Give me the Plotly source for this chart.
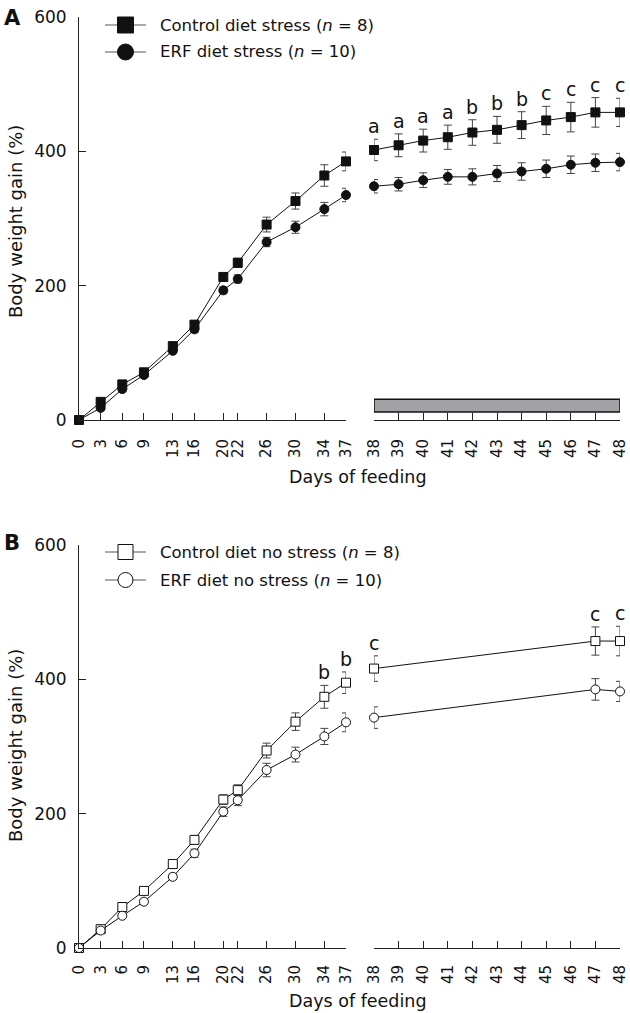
import plotly.graph_objects as go

W, H = 630, 1013

# ---------------- data ----------------
days_left = [0, 3, 6, 9, 13, 16, 20, 22, 26, 30, 34, 37]
days_right_A = [38, 39, 40, 41, 42, 43, 44, 45, 46, 47, 48]
days_right_B = [38, 47, 48]

# Panel A (stress)
ctrl_stress_left = [0, 27, 53, 71, 110, 142, 213, 234, 291, 326, 364, 385]
ctrl_stress_left_err = [2, 4, 4, 5, 5, 6, 6, 7, 11, 12, 16, 14]
erf_stress_left = [0, 18, 46, 67, 103, 135, 193, 210, 265, 287, 314, 335]
erf_stress_left_err = [2, 3, 3, 4, 4, 5, 5, 6, 7, 9, 10, 10]

ctrl_stress_right = [402, 409, 416, 421, 428, 432, 439, 446, 451, 458, 458]
ctrl_stress_right_err = [16, 17, 17, 18, 19, 20, 20, 21, 22, 22, 21]
erf_stress_right = [348, 351, 357, 362, 362, 367, 370, 374, 380, 383, 384]
erf_stress_right_err = [10, 10, 11, 11, 12, 12, 13, 13, 13, 13, 13]
letters_A = ["a", "a", "a", "a", "b", "b", "b", "c", "c", "c", "c"]

# Panel B (no stress)
ctrl_nostress_left = [0, 28, 61, 85, 125, 161, 221, 235, 294, 337, 374, 395]
ctrl_nostress_left_err = [2, 4, 4, 5, 5, 6, 7, 8, 11, 13, 17, 16]
erf_nostress_left = [0, 26, 48, 69, 106, 141, 203, 220, 265, 288, 315, 336]
erf_nostress_left_err = [2, 3, 3, 4, 4, 6, 7, 8, 10, 11, 12, 14]
letters_B_left = {34: "b", 37: "b"}

ctrl_nostress_right = [416, 457, 457]
ctrl_nostress_right_err = [19, 21, 22]
erf_nostress_right = [343, 385, 382]
erf_nostress_right_err = [16, 16, 15]
letters_B_right = ["c", "c", "c"]

stress_period = [38, 48]
stress_bar_y = [12, 31]

y_ticks = [0, 200, 400, 600]
x_title = "Days of feeding"
y_title = "Body weight gain (%)"

# ---------------- layout helpers ----------------
FONT = "DejaVu Sans"
def px_x(p):
    return p / W
def px_y(p):
    return 1 - p / H

XL = [px_x(79), px_x(346)]
XR = [px_x(374), px_x(620)]
YA = [px_y(420), px_y(17)]
YB = [px_y(948), px_y(545)]

fig = go.Figure()

def add_series(x, y, err, xa, ya, symbol, fill):
    fig.add_trace(go.Scatter(
        x=x, y=y, xaxis=xa, yaxis=ya, mode="lines+markers",
        line=dict(color="#111", width=1),
        marker=dict(symbol=symbol, size=9, color=fill,
                    line=dict(color="#111", width=1)),
        error_y=dict(type="data", array=err, color="#444", thickness=1, width=4),
        cliponaxis=False, showlegend=False, hoverinfo="skip"))

# Panel A
add_series(days_left, ctrl_stress_left, ctrl_stress_left_err, "x", "y", "square", "#111")
add_series(days_left, erf_stress_left, erf_stress_left_err, "x", "y", "circle", "#111")
add_series(days_right_A, ctrl_stress_right, ctrl_stress_right_err, "x2", "y", "square", "#111")
add_series(days_right_A, erf_stress_right, erf_stress_right_err, "x2", "y", "circle", "#111")
# Panel B
add_series(days_left, ctrl_nostress_left, ctrl_nostress_left_err, "x3", "y2", "square", "white")
add_series(days_left, erf_nostress_left, erf_nostress_left_err, "x3", "y2", "circle", "white")
add_series(days_right_B, ctrl_nostress_right, ctrl_nostress_right_err, "x4", "y2", "square", "white")
add_series(days_right_B, erf_nostress_right, erf_nostress_right_err, "x4", "y2", "circle", "white")

tick_font = dict(family=FONT, size=17, color="#111")
xtick_font = dict(family=FONT, size=15, color="#111")

def xaxis(domain, rng, vals, anchor, standoff, pad=False):
    text = [str(d).rjust(2, "\u2007") if pad else str(d) for d in vals]
    return dict(domain=domain, anchor=anchor, range=rng, tickmode="array",
                tickvals=vals, ticktext=text,
                tickangle=-90, ticks="inside", ticklen=7, tickcolor="#222",
                showline=True, linecolor="#222", linewidth=1,
                showgrid=False, zeroline=False, tickfont=xtick_font,
                ticklabelstandoff=standoff, automargin=False, fixedrange=True)

def yaxis(domain, anchor):
    return dict(domain=domain, anchor=anchor, range=[0, 600], tickmode="array",
                tickvals=y_ticks, ticks="inside", ticklen=7, tickcolor="#222",
                showline=True, linecolor="#222", linewidth=1,
                showgrid=False, zeroline=False, tickfont=tick_font,
                ticklabelstandoff=8, automargin=False, fixedrange=True)

fig.update_layout(
    width=W, height=H, margin=dict(l=0, r=0, t=0, b=0, pad=0, autoexpand=False),
    paper_bgcolor="white", plot_bgcolor="white",
    font=dict(family=FONT, color="#111"),
    xaxis=xaxis(XL, [0, 37], days_left, "y", 12, pad=True),
    xaxis2=xaxis(XR, [38, 48], days_right_A, "y", 12),
    xaxis3=xaxis(XL, [0, 37], days_left, "y2", 10, pad=True),
    xaxis4=xaxis(XR, [38, 48], days_right_A, "y2", 10),
    yaxis=yaxis(YA, "x"), yaxis2=yaxis(YB, "x3"),
    showlegend=False,
)

shapes = []
annotations = []

# stress period bar (panel A)
shapes.append(dict(type="rect", xref="x2", yref="y",
                   x0=stress_period[0], x1=stress_period[1],
                   y0=stress_bar_y[0], y1=stress_bar_y[1],
                   fillcolor="#a2a2a6", line=dict(color="#111", width=1.5)))

# significance letters
def letter(x, y, t, xref, yref):
    annotations.append(dict(x=x, y=y, xref=xref, yref=yref, text=t,
                            showarrow=False, xanchor="center", yanchor="bottom", yshift=0,
                            font=dict(family=FONT, size=19, color="#111")))

for d, m, e, t in zip(days_right_A, ctrl_stress_right, ctrl_stress_right_err, letters_A):
    letter(d, m + e, t, "x2", "y")
for d, m, e in zip(days_left, ctrl_nostress_left, ctrl_nostress_left_err):
    if d in letters_B_left:
        letter(d, m + e, letters_B_left[d], "x3", "y2")
for d, m, e, t in zip(days_right_B, ctrl_nostress_right, ctrl_nostress_right_err, letters_B_right):
    letter(d, m + e, t, "x4", "y2")

def paper_text(xp, yp, text, size, angle=0, xanchor="center"):
    annotations.append(dict(x=px_x(xp), y=px_y(yp), xref="paper", yref="paper",
                            text=text, textangle=angle, showarrow=False,
                            xanchor=xanchor, yanchor="middle",
                            font=dict(family=FONT, size=size, color="#111")))

# axis titles and panel labels
for ymid, ytitle in [(222, 477), (746, 1001)]:
    paper_text(358, ytitle, x_title, 17.5)
    paper_text(15, ymid, y_title, 18, angle=-90)
paper_text(12, 18, "<b>A</b>", 21)
paper_text(12, 543, "<b>B</b>", 21)

# manual legends
legend_items = [
    (25, "square", "#111", "Control diet stress (<i>n</i> = 8)"),
    (52, "circle", "#111", "ERF diet stress (<i>n</i> = 10)"),
    (552, "square", "white", "Control diet no stress (<i>n</i> = 8)"),
    (580, "circle", "white", "ERF diet no stress (<i>n</i> = 10)"),
]
for yc, sym, fill, txt in legend_items:
    shapes.append(dict(type="line", xref="paper", yref="paper",
                       x0=px_x(105), x1=px_x(146), y0=px_y(yc), y1=px_y(yc),
                       line=dict(color="#555", width=1)))
    half = 8 if fill == "#111" else 7.5
    shapes.append(dict(type="rect" if sym == "square" else "circle",
                       xref="paper", yref="paper",
                       x0=px_x(125.5 - half), x1=px_x(125.5 + half),
                       y0=px_y(yc + half), y1=px_y(yc - half),
                       fillcolor=fill, line=dict(color="#111", width=1)))
    paper_text(158, yc, txt, 16.5, xanchor="left")

fig.update_layout(shapes=shapes, annotations=annotations)
fig.write_html("out.html",
               config={"displayModeBar": False},
               post_script="document.body.style.margin='0';"
                           "document.documentElement.style.overflow='hidden';")
